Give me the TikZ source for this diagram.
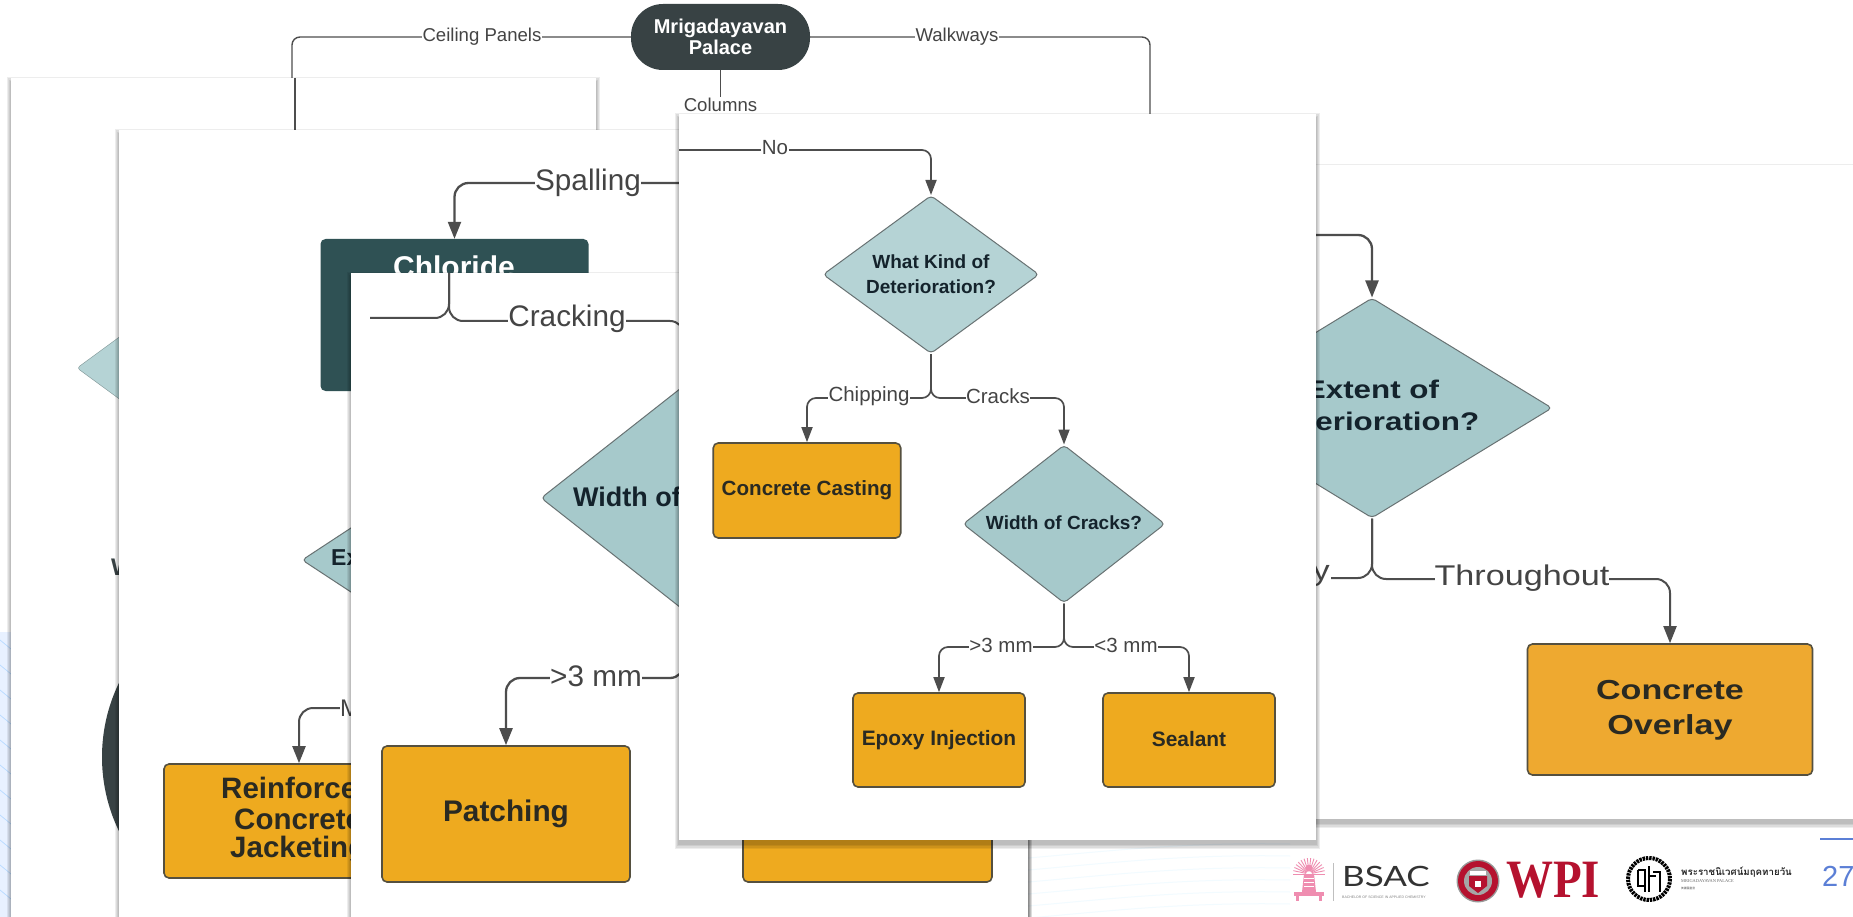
\documentclass[tikz,border=0pt]{standalone}
\usepackage{fontspec}
\usepackage{graphicx}
\setmainfont{Liberation Sans}
\newfontfamily\thaifont[Script=Thai]{Loma}
\newfontfamily\cjkfont{Noto Sans CJK SC}
\newfontfamily\wpifont{Liberation Serif}
\newfontfamily\bsacfont{Lato}
\usetikzlibrary{arrows.meta,shapes.geometric}
\definecolor{orangeA}{HTML}{EEAA1F}
\definecolor{orangeB}{HTML}{EEA930}
\definecolor{tealA}{HTML}{B5D3D5}
\definecolor{tealB}{HTML}{A6C9CB}
\definecolor{darkA}{HTML}{384244}
\definecolor{darkB}{HTML}{2F5154}
\definecolor{wire}{HTML}{4D4D4D}
\definecolor{labelc}{HTML}{444444}
\definecolor{edgec}{HTML}{55503F}
\definecolor{inkA}{HTML}{2A2A22}
\definecolor{inkB}{HTML}{14232C}
\definecolor{pinkc}{HTML}{EF8DB0}
\definecolor{wpired}{HTML}{B5122F}
\definecolor{slideblue}{HTML}{5B7FD6}
\newcommand{\fs}[1]{\fontsize{#1}{#1}\selectfont}
\newcommand{\stretched}[2]{\scalebox{#1}[1]{#2}}
% soft shadow and white sheet of a pasted picture
\newcommand{\sheet}[4]{%
  \foreach \s in {6,4.5,3,1.5}{
    \fill[black,opacity=.07] ({#1-\s*.7},{#2-\s+5}) rectangle ({#3+\s*.7},{#4+\s+3});
  }
  \fill[white] (#1,#2) rectangle (#3,#4);
}
\tikzset{
  wirea/.style={draw=wire,line width=1.4pt,rounded corners=8pt},
  wireb/.style={draw=wire,line width=1.7pt,rounded corners=9pt},
  wirec/.style={draw=wire,line width=2.3pt,rounded corners=14pt},
  tipb/.style={-{Triangle[length=15pt,width=11pt]}},
  tipc/.style={-{Triangle[length=17pt,width=13pt]}},
  labtop/.style={fill=white,inner sep=.5pt,text=labelc,font=\fs{18.6}},
  labmid/.style={fill=white,inner sep=.5pt,text=labelc,font=\fs{20.5},yshift=2pt},
  labbig/.style={fill=white,inner sep=.5pt,text=labelc,font=\fs{29.7}},
  actbox/.style={draw=edgec,line width=1.6pt,fill=orangeA,rounded corners=5pt,inner sep=0pt,
    text=inkA,font=\bfseries\fs{20.6},align=center},
  question/.style={diamond,draw=wire!70!tealB,line width=1pt,fill=tealB,rounded corners=4pt,inner sep=0pt,
    text=inkB,font=\bfseries\fs{18},align=center},
  plain/.style={inner sep=0pt}
}
\begin{document}
\begin{tikzpicture}[x=1pt,y=-1pt]
\useasboundingbox (0,0) rectangle (1853,917);
\clip (0,0) rectangle (1853,917);
\fill[white] (0,0) rectangle (1853,917);

% faint slide background
\fill[blue!60!cyan!9] (0,632) rectangle (11,917);
\foreach \yy in {640,665,690,715,740,765,790,815,840,865,890}{
  \draw[blue!50!cyan!28,line width=.7pt] (0,\yy) -- (11,\yy+9);
}
\foreach \yy in {850,862,874,886,898,910}{
  \draw[blue!30!cyan!5,line width=1pt] (1028,\yy+8) .. controls (1100,\yy+2) and (1180,\yy-8) .. (1290,\yy-6);
}

% top chart
\node[fill=darkA,rounded corners=32pt,minimum width=179pt,minimum height=66pt,inner sep=0pt,
  text=white,font=\bfseries\fs{20},align=center] (palace) at (720.5,37) {Mrigadayavan\\[1pt]Palace};
\coordinate (ceilbend) at (482,37);
\coordinate (ceilend) at (292,90);
\coordinate (walkbend) at (957,37);
\coordinate (walkend) at (1150,125);
\draw[wirea] (palace.west) -- (ceilbend) -| (ceilend);
\draw[wirea] (palace.east) -- (walkbend) -| (walkend);
\node[labtop] (ceilab) at (ceilbend) {Ceiling Panels};
\node[labtop] (walklab) at (walkbend) {Walkways};
\node[labtop] (columns) at (720.5,105) {Columns};
\draw[wirea] (palace.south) -- (columns.north);

% sheet 1
\sheet{11}{78}{596}{925}
\coordinate (sonea) at (295,78);
\coordinate (soneb) at (295,135);
\draw[wire,line width=2.2pt] (sonea) -- (soneb);
\node[diamond,fill=tealA,draw=tealA!70!black,rounded corners=3pt,minimum width=300pt,minimum height=220pt,aspect=1.36,inner sep=0pt] (sonedia) at (227,368) {};
\fill[darkA] (272,757) circle (170);
\node[plain,anchor=west,text=darkA,font=\bfseries\fs{24}] (soneglyph) at (111,567) {W};

% sheet 2
\sheet{119}{130}{1028}{925}
\node[fill=darkB,rounded corners=5pt,minimum width=268pt,minimum height=152pt,inner sep=0pt] (chloridebox) at (454.5,315) {};
\node[plain,text=white,font=\bfseries\fs{30}] (chloridetext) at (454,267) {Chloride};
\coordinate (spallend) at (700,183);
\coordinate (spallbend) at (588,183);
\draw[wirec,tipc] (spallend) -- (spallbend) -| (chloridebox.north);
\node[labbig] (spalling) at (spallbend) {Spalling};
\node[question,fill=tealB,minimum width=280pt,minimum height=184pt,aspect=1.5] (twodia) at (442,560) {};
\node[plain,anchor=west,text=inkB,font=\bfseries\fs{23}] (extext) at (331,558) {Ex};
\node[actbox,fill=orangeA,minimum width=270pt,minimum height=114pt] (jacket) at (299,821) {};
\coordinate (mend) at (420,708);
\coordinate (mbend) at (345,708);
\draw[wirec,line width=2pt,tipc] (mend) -- (mbend) -| (jacket.north);
\node[plain,anchor=west,fill=white,text=labelc,font=\fs{24}] (mlabel) at (340,708) {M};
\node[plain,anchor=west,text=inkA,font=\bfseries\fs{29.5}] (rone) at (221,788) {Reinforce};
\node[plain,anchor=west,text=inkA,font=\bfseries\fs{29.5}] (rtwo) at (234,819) {Concrete};
\node[plain,anchor=west,text=inkA,font=\bfseries\fs{29.5}] (rthree) at (230,850) {Jacketing};

% sheet 3
\sheet{351}{273}{1028}{930}
\node[question,minimum width=286pt,minimum height=225pt,aspect=1.27] (threedia) at (684,498) {};
\node[plain,anchor=west,text=inkB,font=\bfseries\fs{27}] (widthtext) at (573,497) {Width of};
\node[actbox,minimum width=248pt,minimum height=136pt,font=\bfseries\fs{29.8}] (patching) at (506,814) {\raisebox{3pt}{Patching}};
\node[actbox,minimum width=249pt,minimum height=136pt] (hiddenbox) at (867.5,814) {};
\coordinate (threetop) at (449,273);
\coordinate (threeleft) at (370,318);
\coordinate (crackbend) at (567,321);
\coordinate (gtbend) at (596,678);
\draw[wirec,line width=2pt] (threetop) |- (threeleft);
\draw[wirec,line width=2pt] (threetop) |- (crackbend) -| (threedia.north);
\node[labbig,yshift=2pt] (cracking) at (crackbend) {Cracking};
\draw[wirec,tipc] (threedia.south) |- (gtbend) -| (patching.north);
\node[labbig,yshift=2pt] (gtthree) at (gtbend) {>3 mm};

% sheet 5
\sheet{1200}{165}{1870}{819}
\node[question,minimum width=360pt,minimum height=220pt,aspect=1.64] (fivedia) at (1372,408) {};
\node[plain,text=inkB,font=\bfseries\fs{25.5}] (fivetext) at (1372,408) {\stretched{1.23}{\renewcommand{\arraystretch}{1.25}\begin{tabular}{@{}c@{}}Extent of\\Deterioration?\end{tabular}}};
\node[actbox,fill=orangeB,minimum width=285pt,minimum height=131pt] (overlay) at (1670,709.5) {};
\node[plain,text=inkA,font=\bfseries\fs{27.5}] (overlaytext) at (1670,710) {\stretched{1.24}{\renewcommand{\arraystretch}{1.25}\begin{tabular}{@{}c@{}}Concrete\\Overlay\end{tabular}}};
\coordinate (fiveentry) at (1300,235);
\coordinate (fiveleft) at (1318,578);
\coordinate (throughbend) at (1522,579);
\draw[wirec,tipc] (fiveentry) -| (fivedia.north);
\draw[wirec,line width=2pt] (fivedia.south) |- (fiveleft);
\draw[wirec,line width=2pt,tipc] (fivedia.south) |- (throughbend) -| (overlay.north);
\node[plain,fill=white,text=labelc,font=\fs{28.5},yshift=1pt] (throughout) at (throughbend) {\stretched{1.2}{Throughout}};
\node[plain,anchor=east,fill=white,text=labelc,font=\fs{28.5},inner xsep=1pt] (ylabel) at (1331,576) {\stretched{1.2}{y}};

% sheet 4, in front
\sheet{679}{114}{1316}{840}
\coordinate (nostart) at (679,150);
\coordinate (nobend) at (775,150);
\node[question,fill=tealA,minimum width=216pt,minimum height=158pt,aspect=1.36,font=\bfseries\fs{19}] (kinddia) at (931,274.5) {\raisebox{2pt}{What Kind of}\\[4pt]Deterioration?};
\node[question,minimum width=202pt,minimum height=158pt,aspect=1.27,font=\bfseries\fs{19}] (widthdia) at (1064,524) {\raisebox{2pt}{Width of Cracks?}};
\node[actbox,minimum width=187.5pt,minimum height=95pt] (casting) at (807,490.5) {Concrete Casting};
\node[actbox,minimum width=172pt,minimum height=94pt,font=\bfseries\fs{20.9}] (epoxy) at (939,740) {\raisebox{2pt}{Epoxy Injection}};
\node[actbox,minimum width=172pt,minimum height=94pt,font=\bfseries\fs{20.9}] (sealant) at (1189,740) {\raisebox{2pt}{Sealant}};
\coordinate (chipbend) at (869,398);
\coordinate (crackbendb) at (998,398);
\coordinate (gtbendb) at (1001,647);
\coordinate (ltbendb) at (1126,647);
\draw[wireb,tipb] (nostart) -- (nobend) -| (kinddia.north);
\draw[wireb,tipb] (kinddia.south) |- (chipbend) -| (casting.north);
\draw[wireb,tipb] (kinddia.south) |- (crackbendb) -| (widthdia.north);
\draw[wireb,tipb] (widthdia.south) |- (gtbendb) -| (epoxy.north);
\draw[wireb,tipb] (widthdia.south) |- (ltbendb) -| (sealant.north);
\node[labmid] (nolab) at (nobend) {No};
\node[labmid] (chiplab) at (chipbend) {Chipping};
\node[labmid] (cracklab) at (crackbendb) {Cracks};
\node[labmid] (gtlab) at (gtbendb) {>3 mm};
\node[labmid] (ltlab) at (ltbendb) {<3 mm};

% Chulalongkorn emblem
\foreach \a in {0,12,...,180}{
  \draw[pinkc,line width=.9pt] ({1309+3*cos(\a)},{874-3*sin(\a)}) -- ({1309+16*cos(\a)},{874-16*sin(\a)});
}
\fill[pinkc] (1309,868) circle (3.4);
\fill[pinkc] (1304,874) -- (1314,874) -- (1316,892) -- (1302,892) -- cycle;
\foreach \yy in {878,882,886}{\draw[white,line width=.5pt] (1304,\yy) -- (1314,\yy);}
\fill[pinkc] (1294,892) rectangle (1324,896);
\fill[pinkc] (1296,896) rectangle (1299,901);
\fill[pinkc] (1319,896) rectangle (1322,901);
\draw[black!25,line width=.8pt] (1333,863) -- (1333,901);
\node[plain,anchor=west,text=black!80,font=\bsacfont\fs{28}] (bsac) at (1342,876.5) {\stretched{1.25}{BSAC}};
\node[plain,anchor=west,text=black!50,font=\fs{3.5}] (bsacsub) at (1342,897) {BACHELOR OF SCIENCE IN APPLIED CHEMISTRY};

% WPI seal and word
\fill[black!40] (1478,881) circle (21.5);
\fill[wpired] (1478,881) circle (20);
\fill[black!35] (1478,881) circle (14);
\fill[white] (1470,871) rectangle (1486,875);
\fill[wpired] (1469,876) -- (1487,876) -- (1487,886) -- (1478,893) -- (1469,886) -- cycle;
\fill[white] (1475,881) rectangle (1481,887);
\node[plain,anchor=west,text=wpired,font=\wpifont\bfseries\fs{54}] (wpi) at (1506,880) {\stretched{.87}{WPI}};

% palace seal and words
\draw[black,line width=4pt,dash pattern=on 2.4pt off .9pt] (1649,879) circle (21);
\draw[black,line width=1.5pt] (1638,870) -- (1645,870) -- (1645,892);
\draw[black,line width=1.5pt] (1638,870) -- (1638,886) -- (1644,886);
\draw[black,line width=1.5pt] (1649,866) -- (1649,892);
\draw[black,line width=1.5pt] (1653,872) -- (1660,872) -- (1660,892);
\draw[black,line width=1.5pt] (1649,876) -- (1656,876);
\node[plain,anchor=west,text=black!85,font=\thaifont\bfseries\fs{9.7}] (thai) at (1681,872) {พระราชนิเวศน์มฤคทายวัน};
\node[plain,anchor=west,text=black!60,font=\wpifont\fs{4.4}] (palaceen) at (1681,881) {MRIGADAYAVAN PALACE};
\node[plain,anchor=west,text=black!70,font=\cjkfont\fs{2.8}] (palacezh) at (1681,888) {美麗園皇宮};

% slide number
\coordinate (rulea) at (1820,839);
\coordinate (ruleb) at (1853,839);
\draw[slideblue,line width=1.2pt] (rulea) -- (ruleb);
\node[plain,anchor=west,text=slideblue,font=\fs{29}] (pagenum) at (1822,876) {27};
\end{tikzpicture}
\end{document}
